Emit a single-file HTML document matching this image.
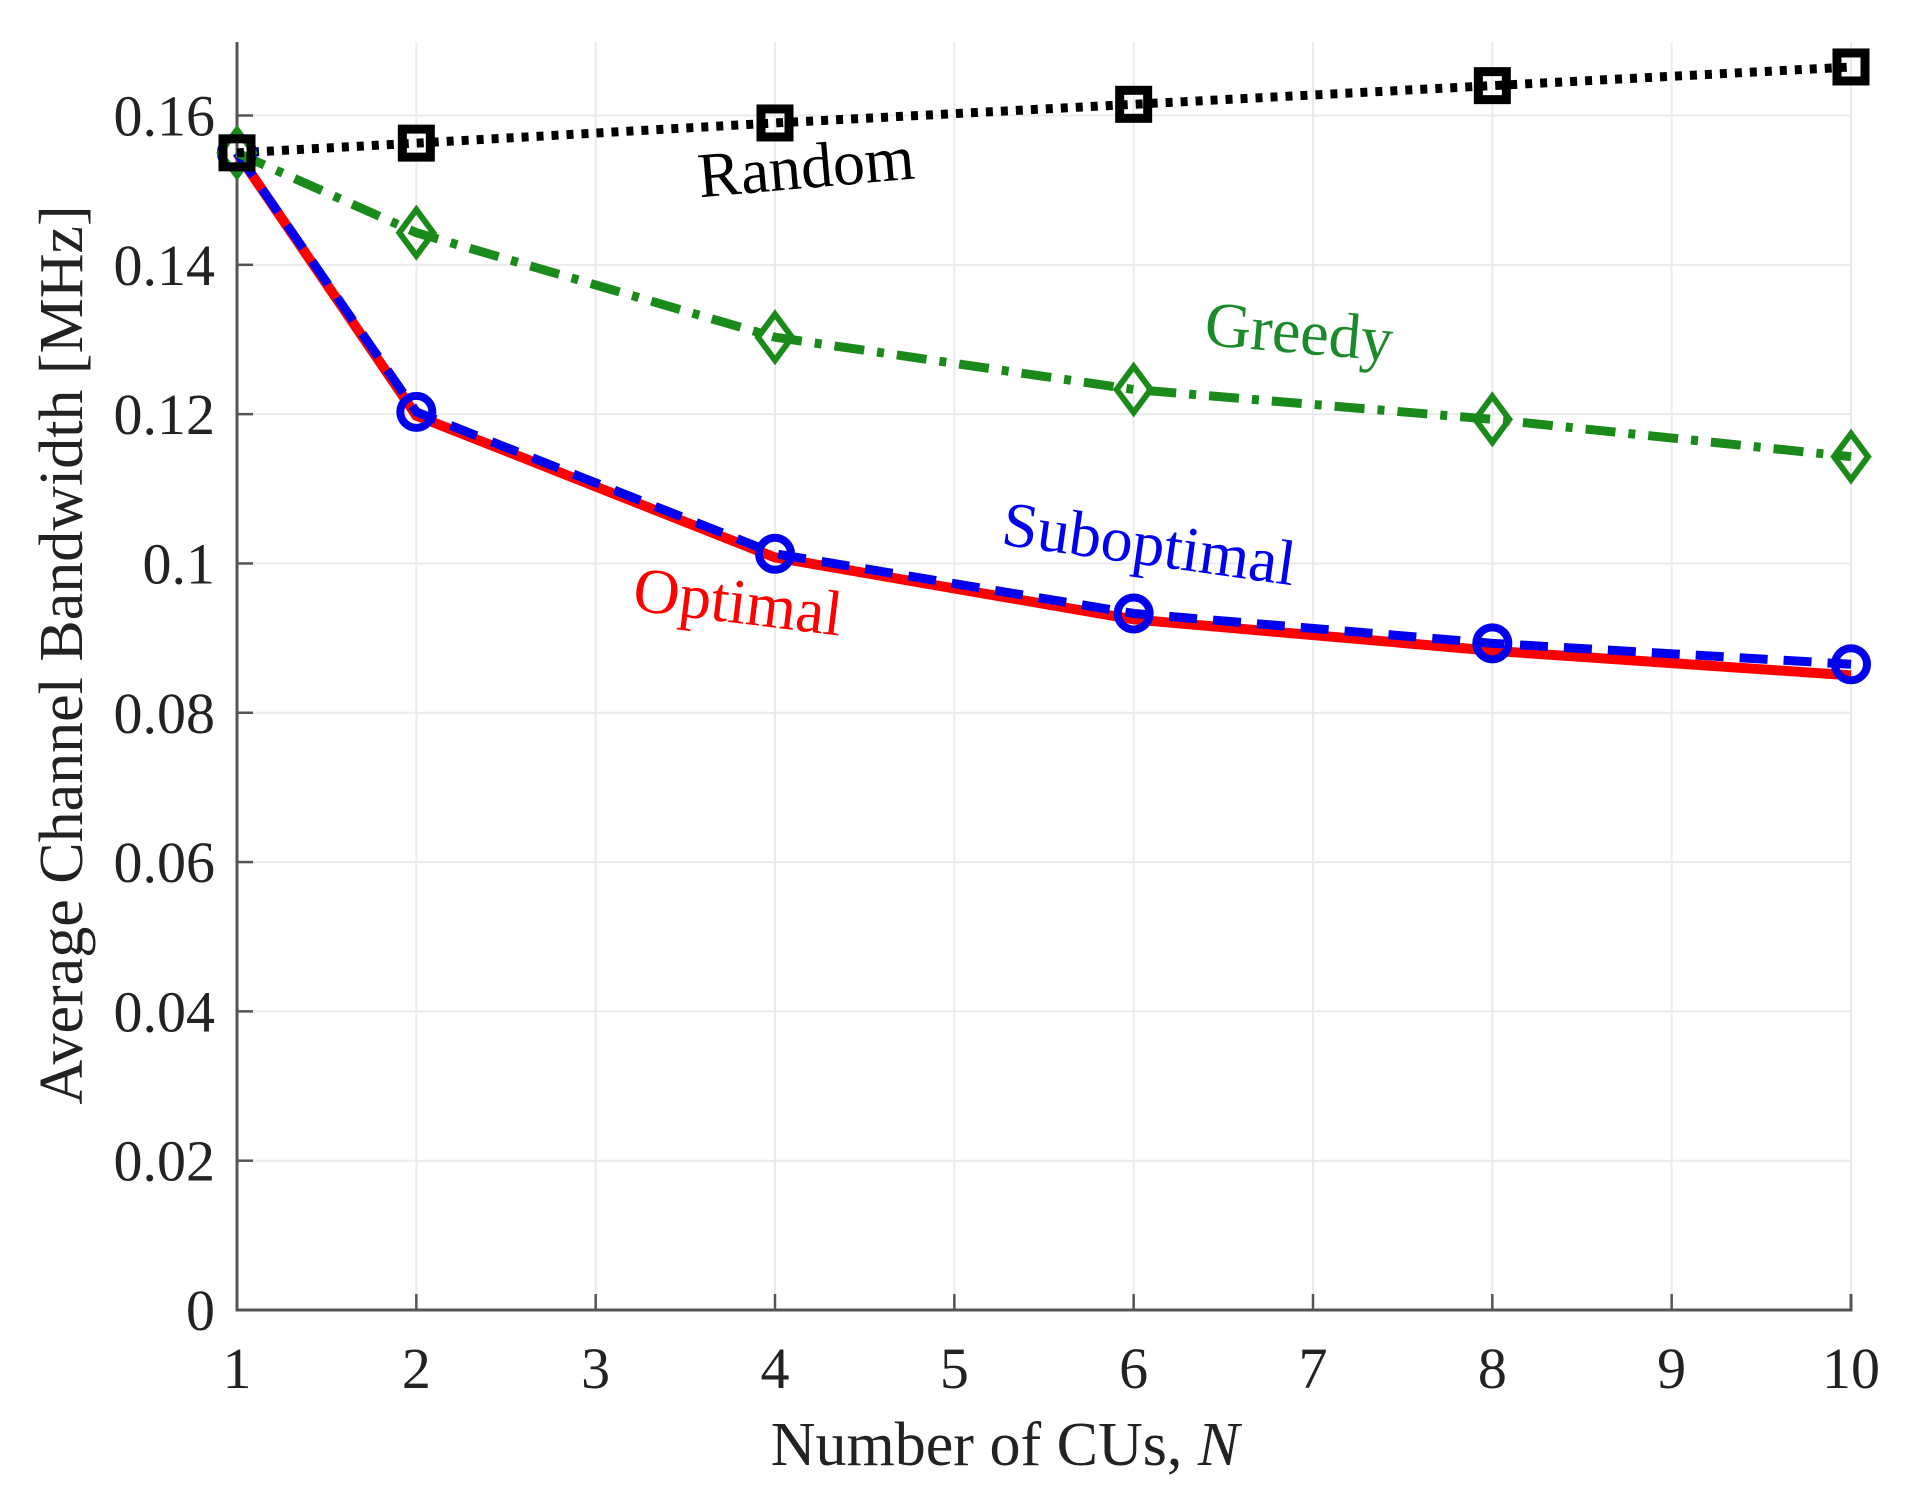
<!DOCTYPE html>
<html><head><meta charset="utf-8">
<style>
html,body{margin:0;padding:0;background:#fff;}
svg{display:block;font-family:"Liberation Serif",serif;}
</style></head>
<body>
<svg id="chart" width="1907" height="1487" viewBox="0 0 1907 1487" xmlns="http://www.w3.org/2000/svg">
<g id="grid"></g>
<g id="axes"></g>
<g id="series"></g>
<text x="806" y="188" font-size="64" fill="#000" text-anchor="middle" transform="rotate(-5 806 167)">Random</text>
<text x="1299" y="353" font-size="64" fill="#1a8a2a" text-anchor="middle" transform="rotate(5 1299 332)">Greedy</text>
<text x="1149" y="565" font-size="64" fill="#0000ee" text-anchor="middle" transform="rotate(8 1149 544)">Suboptimal</text>
<text x="738" y="623" font-size="64" fill="#ff0000" text-anchor="middle" transform="rotate(7 738 602)">Optimal</text>
<text x="1005" y="1465" font-size="62" fill="#222" text-anchor="middle">Number of CUs, <tspan font-style="italic">N</tspan></text>
<text x="0" y="0" font-size="62" fill="#222" text-anchor="middle" transform="translate(82 655) rotate(-90)">Average Channel Bandwidth [MHz]</text>
</svg>
<script>
const xTicks = [1,2,3,4,5,6,7,8,9,10];
const yTicks = [0,0.02,0.04,0.06,0.08,0.1,0.12,0.14,0.16];
const yTickLabels = ["0","0.02","0.04","0.06","0.08","0.1","0.12","0.14","0.16"];
const xs = [1,2,4,6,8,10];
const randomVals = [0.155,0.1563,0.159,0.1615,0.164,0.1665];
const greedyVals = [0.155,0.1443,0.1303,0.1233,0.1193,0.1143];
const suboptVals = [0.155,0.1203,0.1013,0.0933,0.0893,0.0865];
const optVals = [0.155,0.1198,0.1008,0.0925,0.0883,0.085];

const NS="http://www.w3.org/2000/svg";
const X0=237,X1=1851,Y0=1310,Y1=115.5,TOP=42;
const sx=v=>X0+(v-1)/(10-1)*(X1-X0);
const sy=v=>Y0-(v/0.16)*(Y0-Y1);
function mk(tag,attrs,parent){const e=document.createElementNS(NS,tag);for(const k in attrs)e.setAttribute(k,attrs[k]);parent.appendChild(e);return e;}
const grid=document.getElementById('grid'),axes=document.getElementById('axes'),ser=document.getElementById('series');
xTicks.forEach(t=>{
  const l=mk('line',{x1:sx(t),x2:sx(t),y1:TOP,y2:Y0,stroke:'#ebebeb','stroke-width':2},grid);
  
  
  const tk=mk('line',{x1:sx(t),x2:sx(t),y1:Y0,y2:Y0-16,stroke:'#555','stroke-width':2.5},axes);
  
  
  const tx=mk('text',{x:sx(t),y:Y0+78,'font-size':58,fill:'#222','text-anchor':'middle'},axes);
  tx.textContent=t;
  
  
});
yTicks.forEach((t,i)=>{
  const l=mk('line',{x1:X0,x2:X1,y1:sy(t),y2:sy(t),stroke:'#ebebeb','stroke-width':2},grid);
  
  
  const tk=mk('line',{x1:X0,x2:X0+16,y1:sy(t),y2:sy(t),stroke:'#555','stroke-width':2.5},axes);
  
  
  const tx=mk('text',{x:X0-22,y:sy(t)+20,'font-size':58,fill:'#222','text-anchor':'end'},axes);
  tx.textContent=yTickLabels[i];
  
  
});
const ax=mk('path',{d:`M${X0} ${TOP} L${X0} ${Y0} L${X1} ${Y0} L${X1} ${Y0-16}`,fill:'none',stroke:'#555','stroke-width':3},axes);



function pts(v){return xs.map((x,i)=>sx(x)+','+sy(v[i])).join(' ');}
let p;
p=mk('polyline',{points:pts(optVals),fill:'none',stroke:'#ff0000','stroke-width':10},ser);


p=mk('polyline',{points:pts(suboptVals),fill:'none',stroke:'#0000ee','stroke-width':9,'stroke-dasharray':'28 16'},ser);


p=mk('polyline',{points:pts(greedyVals),fill:'none',stroke:'#1a8a1a','stroke-width':9,'stroke-dasharray':'30 13 7 13'},ser);


p=mk('polyline',{points:pts(randomVals),fill:'none',stroke:'#000','stroke-width':9,'stroke-dasharray':'7 8'},ser);


xs.forEach((x,i)=>{
  let m=mk('circle',{cx:sx(x),cy:sy(suboptVals[i]),r:16,fill:'none',stroke:'#0000ee','stroke-width':8},ser);
  
  
  const gx=sx(x),gy=sy(greedyVals[i]);
  m=mk('polygon',{points:`${gx},${gy-23} ${gx+17},${gy} ${gx},${gy+23} ${gx-17},${gy}`,fill:'none',stroke:'#1a8a1a','stroke-width':6},ser);
  
  
  m=mk('rect',{x:sx(x)-14,y:sy(randomVals[i])-14,width:28,height:28,fill:'none',stroke:'#000','stroke-width':9},ser);
  
  
});
</script>
</body></html>
